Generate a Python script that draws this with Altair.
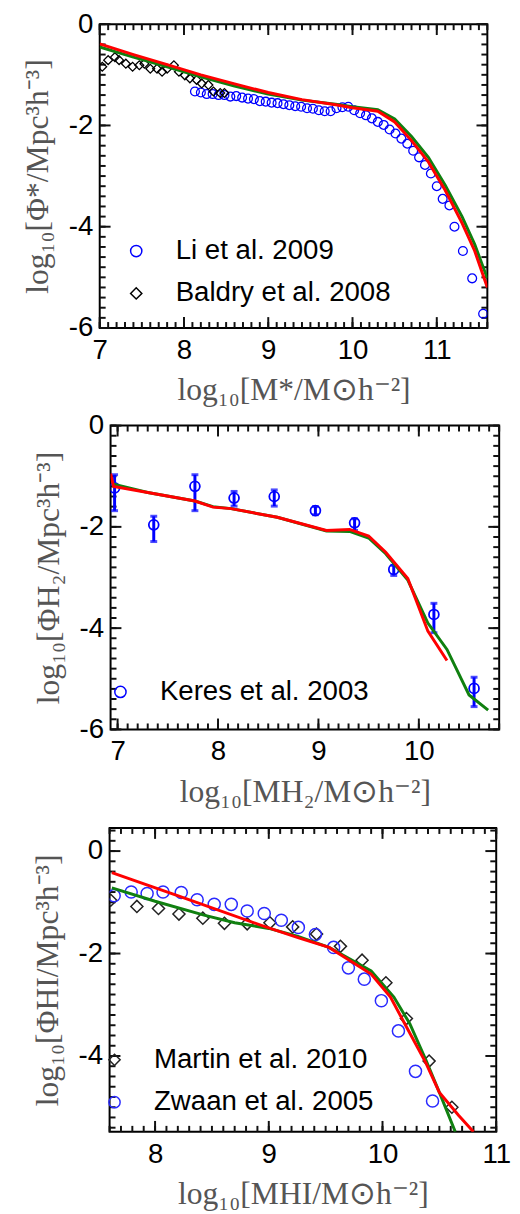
import altair as alt
import pandas as pd

FONT = "Liberation Sans"
SERIF = "Liberation Serif"
BLUE = "#0000ff"
RED = "#ff0000"
GREEN = "#108010"

# ---------------- Panel 1: stellar mass function ----------------
sm_line_x = [7.0, 7.4, 7.8, 8.2, 8.6, 9.0, 9.4, 9.8, 10.0, 10.3, 10.5, 10.7, 10.9, 11.1, 11.3, 11.45, 11.6]
sm_red_y = [-0.39, -0.60, -0.80, -1.00, -1.18, -1.35, -1.49, -1.59, -1.65, -1.72, -1.93, -2.30, -2.72, -3.28, -3.93, -4.48, -5.20]
sm_green_y = [-0.45, -0.65, -0.84, -1.04, -1.22, -1.38, -1.50, -1.58, -1.63, -1.69, -1.87, -2.22, -2.63, -3.18, -3.80, -4.35, -5.02]

li_x = [8.13, 8.20, 8.27, 8.34, 8.41, 8.48, 8.55, 8.62, 8.69, 8.76, 8.83, 8.90, 8.97, 9.04,
        9.11, 9.18, 9.25, 9.32, 9.39, 9.46, 9.53, 9.60, 9.67, 9.74, 9.81, 9.88, 9.95, 10.02,
        10.09, 10.16, 10.23, 10.30, 10.37, 10.44, 10.51, 10.58, 10.65, 10.72, 10.79, 10.86,
        10.93, 11.00, 11.07, 11.15, 11.21, 11.31, 11.42, 11.55]
li_y = [-1.33, -1.35, -1.38, -1.38, -1.40, -1.40, -1.43, -1.42, -1.45, -1.47, -1.48, -1.52, -1.53, -1.55,
        -1.56, -1.58, -1.60, -1.62, -1.63, -1.66, -1.67, -1.70, -1.72, -1.72, -1.66, -1.64, -1.63, -1.70,
        -1.76, -1.80, -1.86, -1.93, -1.99, -2.08, -2.16, -2.26, -2.36, -2.50, -2.63, -2.78,
        -2.95, -3.20, -3.45, -3.58, -4.00, -4.48, -5.02, -5.72]

baldry_x = [7.03, 7.10, 7.18, 7.23, 7.31, 7.39, 7.47, 7.53, 7.60, 7.68, 7.74, 7.80, 7.88, 7.94,
            8.01, 8.07, 8.15, 8.21, 8.29, 8.35, 8.43, 8.48]
baldry_y = [-0.84, -0.71, -0.65, -0.71, -0.78, -0.84, -0.81, -0.78, -0.88, -0.88, -0.94, -0.88, -0.81, -0.94,
            -1.01, -1.07, -1.10, -1.17, -1.20, -1.33, -1.36, -1.36]

# ---------------- Panel 2: H2 mass function ----------------
h2_red_x = [6.93, 6.96, 7.30, 7.77, 7.95, 8.13, 8.59, 9.08, 9.31, 9.50, 9.67, 9.89, 10.09, 10.28]
h2_red_y = [-0.95, -1.20, -1.32, -1.49, -1.61, -1.64, -1.81, -2.07, -2.05, -2.18, -2.50, -3.02, -4.06, -4.64]
h2_green_x = [6.95, 7.30, 7.77, 7.95, 8.13, 8.59, 9.08, 9.31, 9.50, 9.67, 9.89, 10.09, 10.28, 10.50, 10.69]
h2_green_y = [-1.15, -1.32, -1.49, -1.60, -1.64, -1.81, -2.08, -2.09, -2.22, -2.53, -3.05, -3.90, -4.42, -5.32, -5.62]

keres_x = [6.97, 7.36, 7.77, 8.16, 8.56, 8.97, 9.36, 9.75, 10.15, 10.55]
keres_y = [-1.23, -1.96, -1.20, -1.43, -1.40, -1.68, -1.92, -2.84, -3.73, -5.19]
keres_lo = [-1.68, -2.29, -1.68, -1.59, -1.59, -1.76, -2.07, -2.96, -4.09, -5.55]
keres_hi = [-0.97, -1.79, -0.97, -1.30, -1.27, -1.60, -1.84, -2.76, -3.51, -4.97]

# ---------------- Panel 3: HI mass function ----------------
hi_red_x = [7.62, 8.21, 8.96, 9.27, 9.53, 9.90, 10.07, 10.21, 10.38, 10.50, 10.67, 10.80]
hi_red_y = [-0.42, -0.88, -1.47, -1.70, -1.88, -2.40, -2.85, -3.43, -4.13, -4.71, -5.16, -5.48]
hi_green_x = [7.62, 8.00, 8.43, 8.70, 9.00, 9.25, 9.53, 9.90, 10.10, 10.24, 10.38, 10.50, 10.64]
hi_green_y = [-0.72, -0.98, -1.25, -1.40, -1.51, -1.66, -1.88, -2.34, -2.85, -3.37, -4.07, -4.71, -5.48]

zwaan_x = [7.64, 7.79, 7.93, 8.07, 8.23, 8.37, 8.52, 8.67, 8.81, 8.96, 9.11, 9.26, 9.41, 9.57,
           9.70, 9.84, 9.99, 10.14, 10.29, 10.44]
zwaan_y = [-0.87, -0.80, -0.83, -0.80, -0.81, -0.95, -1.04, -1.04, -1.17, -1.22, -1.35, -1.49, -1.63, -1.88,
           -2.28, -2.50, -2.92, -3.51, -4.30, -4.88]

martin_x = [7.61, 7.84, 8.03, 8.21, 8.42, 8.61, 8.81, 9.01, 9.21, 9.42, 9.63, 9.82, 10.03, 10.21, 10.41, 10.61]
martin_y = [-0.96, -1.08, -1.12, -1.23, -1.31, -1.41, -1.42, -1.40, -1.48, -1.62, -1.86, -2.13, -2.57, -3.27, -4.10, -5.00]

# axis tick values
p1_xmaj = [7, 8, 9, 10, 11]
p1_ymaj = [0, -2, -4, -6]
p2_xmaj = [7, 8, 9, 10]
p2_ymaj = [0, -2, -4, -6]
p3_xmaj = [8, 9, 10, 11]
p3_ymaj = [0, -2, -4]

MAJOR_LEN = 11
MINOR_LEN = 6


def steps(lo, hi, step):
    n = int(round((hi - lo) / step))
    return [round(lo + i * step, 2) for i in range(n + 1)]


def legend(x, y):
    return alt.Legend(orient="none", legendX=x, legendY=y, title=None,
                      labelFont=FONT, labelFontSize=28, labelColor="black",
                      labelLimit=400, labelOffset=26, rowPadding=15, padding=0,
                      symbolSize=130, symbolStrokeWidth=1.5)


def inward_ticks(xs, ys, W, H, xv, yv, length):
    """Tick marks pointing into the frame on all four sides, placed by the panel's scales."""
    dx = pd.DataFrame({"v": xv})
    dy = pd.DataFrame({"v": yv})
    sty = dict(color="#111111", strokeWidth=2)
    top = alt.Chart(dx).mark_rule(**sty).encode(
        x=alt.X("v:Q", scale=xs, axis=None), y=alt.value(0), y2=alt.value(length))
    bottom = alt.Chart(dx).mark_rule(**sty).encode(
        x=alt.X("v:Q", scale=xs, axis=None), y=alt.value(H - length), y2=alt.value(H))
    left = alt.Chart(dy).mark_rule(**sty).encode(
        y=alt.Y("v:Q", scale=ys, axis=None), x=alt.value(0), x2=alt.value(length))
    right = alt.Chart(dy).mark_rule(**sty).encode(
        y=alt.Y("v:Q", scale=ys, axis=None), x=alt.value(W - length), x2=alt.value(W))
    return [top, bottom, left, right]


def panel(xdom, ydom, W, H, xmaj, ymaj, xmin, ymin, xtitle, ytitle, layers, top_ghost=False):
    xs = alt.Scale(domain=xdom, nice=False, zero=False)
    ys = alt.Scale(domain=ydom, nice=False, zero=False)
    carrier_df = pd.DataFrame({"x": xdom, "y": ydom})
    lab_x = alt.Axis(orient="bottom", values=xmaj, labelExpr="toString(datum.value)",
                     ticks=False, tickSize=0, domain=False, grid=False,
                     labelFont=FONT, labelFontSize=28, labelColor="black", labelPadding=9,
                     labelFlush=False, labelOverlap=False,
                     title=xtitle, titleFont=SERIF, titleFontSize=32, titleFontWeight="normal",
                     titleColor="#555555", titleY=63, titleBaseline="middle")
    lab_y = alt.Axis(orient="left", values=ymaj, labelExpr="toString(datum.value)",
                     ticks=False, tickSize=0, domain=False, grid=False,
                     labelFont=FONT, labelFontSize=28, labelColor="black", labelPadding=7,
                     labelFlush=False, labelOverlap=False,
                     title=ytitle, titleFont=SERIF, titleFontSize=32, titleFontWeight="normal",
                     titleColor="#555555", titleX=-63, titleBaseline="middle")
    carrier = alt.Chart(carrier_df).mark_line(strokeOpacity=0).encode(
        x=alt.X("x:Q", scale=xs, axis=lab_x), y=alt.Y("y:Q", scale=ys, axis=lab_y))

    all_layers = [carrier]
    if top_ghost:
        # invisible guide title that only extends the panel's top bounds (spacing above the panel)
        ghost = alt.Axis(orient="left", labels=False, ticks=False, domain=False, grid=False,
                         title="|", titleFontSize=32, titleColor="transparent", titleAngle=0,
                         titleX=2, titleY=-14, titleAlign="left", titleBaseline="top")
        all_layers.append(alt.Chart(carrier_df).mark_line(strokeOpacity=0).encode(
            x=alt.X("x:Q", scale=xs, axis=None), y=alt.Y("y:Q", scale=ys, axis=ghost)))
    all_layers += inward_ticks(xs, ys, W, H, xmin, ymin, MINOR_LEN)
    all_layers += inward_ticks(xs, ys, W, H, xmaj, ymaj, MAJOR_LEN)
    all_layers += [f(xs, ys) for f in layers]
    return alt.layer(*all_layers).resolve_axis(x="independent", y="independent").properties(width=W, height=H)


def line_layer(xv, yv, color, width=3):
    df = pd.DataFrame({"x": xv, "y": yv})

    def f(xs, ys):
        return alt.Chart(df).mark_line(color=color, strokeWidth=width, clip=True).encode(
            x=alt.X("x:Q", scale=xs, axis=None), y=alt.Y("y:Q", scale=ys, axis=None))
    return f


def points_layer(groups, colors, shapes, size, sw, leg):
    xs_all, ys_all, src = [], [], []
    for name, gx, gy in groups:
        xs_all += gx
        ys_all += gy
        src += [name] * len(gx)
    df = pd.DataFrame({"x": xs_all, "y": ys_all, "src": src})
    names = [g[0] for g in groups]

    def f(xs, ys):
        return alt.Chart(df).mark_point(filled=False, size=size, strokeWidth=sw, clip=True, opacity=1).encode(
            x=alt.X("x:Q", scale=xs, axis=None), y=alt.Y("y:Q", scale=ys, axis=None),
            color=alt.Color("src:N", scale=alt.Scale(domain=names, range=colors), legend=leg),
            shape=alt.Shape("src:N", scale=alt.Scale(domain=names, range=shapes), legend=leg))
    return f


def errbar_layer():
    df = pd.DataFrame({"x": keres_x, "lo": keres_lo, "hi": keres_hi})

    def f(xs, ys):
        rule = alt.Chart(df).mark_rule(color=BLUE, strokeWidth=3, clip=True).encode(
            x=alt.X("x:Q", scale=xs, axis=None), y=alt.Y("lo:Q", scale=ys, axis=None), y2="hi:Q")
        cap_lo = alt.Chart(df).mark_point(shape="stroke", size=49, strokeWidth=3, color=BLUE, clip=True).encode(
            x=alt.X("x:Q", scale=xs, axis=None), y=alt.Y("lo:Q", scale=ys, axis=None))
        cap_hi = alt.Chart(df).mark_point(shape="stroke", size=49, strokeWidth=3, color=BLUE, clip=True).encode(
            x=alt.X("x:Q", scale=xs, axis=None), y=alt.Y("hi:Q", scale=ys, axis=None))
        return alt.layer(rule, cap_lo, cap_hi)
    return f


p1 = panel([7.0, 11.6], [-6, 0], 393, 308, p1_xmaj, p1_ymaj,
           steps(7.0, 11.6, 0.1), steps(-6.0, 0.0, 0.2),
           "log₁₀[M*/M⊙h⁻²]", "log₁₀[Φ*/Mpc³h⁻³]",
           [points_layer([("Li et al. 2009", li_x, li_y), ("Baldry et al. 2008", baldry_x, baldry_y)],
                         [BLUE, "#000000"], ["circle", "diamond"], 80, 1.3, legend(23, 216)),
            line_layer(sm_line_x, sm_green_y, GREEN),
            line_layer(sm_line_x, sm_red_y, RED)])

p2 = panel([6.93, 10.8], [-6, 0], 394, 308, p2_xmaj, p2_ymaj,
           steps(7.0, 10.8, 0.1), steps(-6.0, 0.0, 0.2),
           "log₁₀[MH₂/M⊙h⁻²]", "log₁₀[ΦH₂/Mpc³h⁻³]",
           [errbar_layer(),
            points_layer([("Keres et al. 2003", keres_x, keres_y)],
                         [BLUE], ["circle"], 100, 1.8, legend(-4, 256)),
            line_layer(h2_green_x, h2_green_y, GREEN),
            line_layer(h2_red_x, h2_red_y, RED)])

p3 = panel([7.6, 11.0], [-5.48, 0.45], 392, 308, p3_xmaj, p3_ymaj,
           steps(7.6, 11.0, 0.1), steps(-5.4, 0.4, 0.2),
           "log₁₀[MHI/M⊙h⁻²]", "log₁₀[ΦHI/Mpc³h⁻³]",
           [points_layer([("Martin et al. 2010", martin_x, martin_y), ("Zwaan et al. 2005", zwaan_x, zwaan_y)],
                         ["#222222", "#2a2aff"], ["diamond", "circle"], 150, 1.5, legend(-9, 221)),
            line_layer(hi_green_x, hi_green_y, GREEN),
            line_layer(hi_red_x, hi_red_y, RED)], top_ghost=True)


def spacer(w, h):
    return alt.Chart(pd.DataFrame({"a": [0]})).mark_point(opacity=0).encode(
        x=alt.X("a:Q", axis=None), y=alt.Y("a:Q", axis=None)
    ).properties(width=w, height=h, view=alt.ViewBackground(strokeOpacity=0))


row2 = alt.hconcat(spacer(11, 308), p2, spacing=0, bounds="flush").resolve_scale(
    color="independent", shape="independent")
row3 = alt.hconcat(spacer(10, 308), p3, spacing=0, bounds="flush").resolve_scale(
    color="independent", shape="independent")

chart = alt.vconcat(p1, row2, row3, spacing=4).resolve_scale(
    color="independent", shape="independent"
).properties(
    padding={"left": 13, "top": -7, "right": 0, "bottom": 0}
).configure_view(stroke="black", strokeWidth=2)

chart.save("out.html", embed_options={"renderer": "svg", "actions": False})
